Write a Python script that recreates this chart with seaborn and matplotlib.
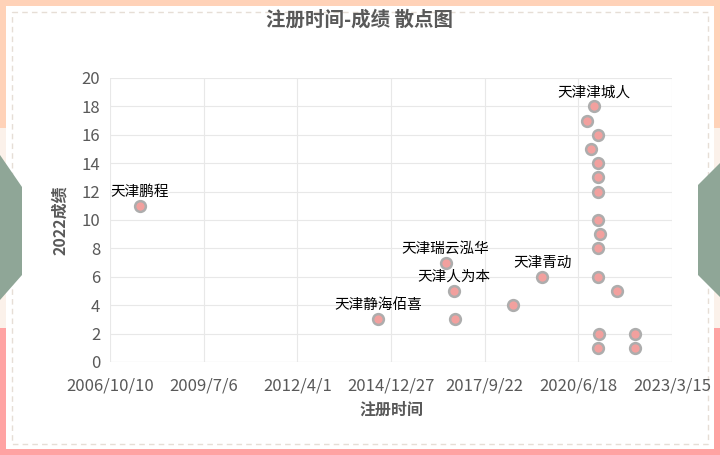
import pandas as pd
import seaborn as sns
import matplotlib.pyplot as plt
import matplotlib.dates as mdates
from matplotlib.patches import Rectangle, Polygon
from matplotlib.ticker import FixedLocator, FuncFormatter, MultipleLocator

# data
reg_dates = ["2007-08-27", "2014-08-12", "2016-08-01", "2016-10-29", "2016-11-05",
             "2018-07-22", "2019-06-01", "2020-12-04", "2020-09-17", "2021-01-18",
             "2020-10-30", "2021-01-18", "2021-01-18", "2021-01-09", "2021-01-18",
             "2021-02-03", "2021-01-18", "2021-01-18", "2021-08-04", "2021-01-26",
             "2022-02-15", "2021-01-18", "2022-02-15"]
scores = [11, 3, 7, 5, 3, 4, 6, 18, 17, 16, 15, 14, 13, 12, 10, 9, 8, 6, 5, 2, 2, 1, 1]
labels = ["天津鹏程", "天津静海佰喜", "天津瑞云泓华", "天津人为本", "", "", "天津青动",
          "天津津城人", "", "", "", "", "", "", "", "", "", "", "", "", "", "", ""]
x_ticks = pd.date_range("2006-10-10", periods=7, freq="1000D")

df = pd.DataFrame({"注册时间": pd.to_datetime(reg_dates), "2022成绩": scores, "name": labels})

sns.set_style("whitegrid")
plt.rcParams["font.family"] = ["Noto Sans CJK SC", "DejaVu Sans"]

fig = plt.figure(figsize=(7.2, 4.55), dpi=100)

# decorative frame
bg = fig.add_axes([0, 0, 1, 1], zorder=-1)
bg.set_xlim(0, 720)
bg.set_ylim(455, 0)
bg.axis("off")
peach, cream, pink, green = "#FFD2B8", "#FBF1EA", "#FFA3A3", "#8FA697"
bg.add_patch(Rectangle((0, 0), 720, 6, color=peach, lw=0))
for xx in (0, 714):
    bg.add_patch(Rectangle((xx, 0), 6, 128, color=peach, lw=0))
    bg.add_patch(Rectangle((xx, 128), 6, 200, color=cream, lw=0))
    bg.add_patch(Rectangle((xx, 328), 6, 127, color=pink, lw=0))
bg.add_patch(Rectangle((0, 449), 720, 6, color=pink, lw=0))
bg.add_patch(Rectangle((12, 12), 696, 432, fill=False, ec="#E6DED6", lw=1, ls=(0, (4, 3))))
bg.add_patch(Polygon([(0, 155), (22, 187), (22, 275), (0, 300)], color=green, lw=0))
bg.add_patch(Polygon([(720, 163), (698, 185), (698, 275), (720, 297)], color=green, lw=0))

ax = fig.add_axes([110 / 720, 1 - 362 / 455, 562 / 720, 284 / 455])
ax.set_facecolor("none")
sns.scatterplot(data=df, x="注册时间", y="2022成绩", ax=ax, s=60,
                color="#F2A09E", edgecolor="#ADADAD", linewidth=1.8, zorder=3)

for _, r in df[df["name"] != ""].iterrows():
    ax.annotate(r["name"], (r["注册时间"], r["2022成绩"]), xytext=(0, 5),
                textcoords="offset points", ha="center", va="bottom",
                fontsize=10.5, color="black")

ax.set_xlim(mdates.date2num(x_ticks[0]), mdates.date2num(x_ticks[-1]))
ax.xaxis.set_major_locator(FixedLocator(mdates.date2num(x_ticks)))
ax.xaxis.set_major_formatter(FuncFormatter(
    lambda v, p: "{0.year}/{0.month}/{0.day}".format(mdates.num2date(v))))
ax.set_ylim(0, 20)
ax.yaxis.set_major_locator(MultipleLocator(2))
ax.grid(True, color="#E8E8E8", lw=0.8)
for s in ax.spines.values():
    s.set_visible(False)
ax.axhline(0, color="#D9D9D9", lw=0.8)
ax.tick_params(colors="#595959", labelsize=12, length=0)
ax.tick_params(axis="x", pad=11)
ax.tick_params(axis="y", pad=7)

ax.set_xlabel("注册时间", fontsize=11.5, fontweight="bold", color="#595959", labelpad=5)
ax.set_ylabel("2022成绩", fontsize=11.5, fontweight="bold", color="#595959", labelpad=10)
fig.text(0.5, 1 - 20 / 455, "注册时间-成绩 散点图", ha="center", va="center",
         fontsize=14, fontweight="bold", color="#595959")

fig.savefig("out.png", dpi=100)
